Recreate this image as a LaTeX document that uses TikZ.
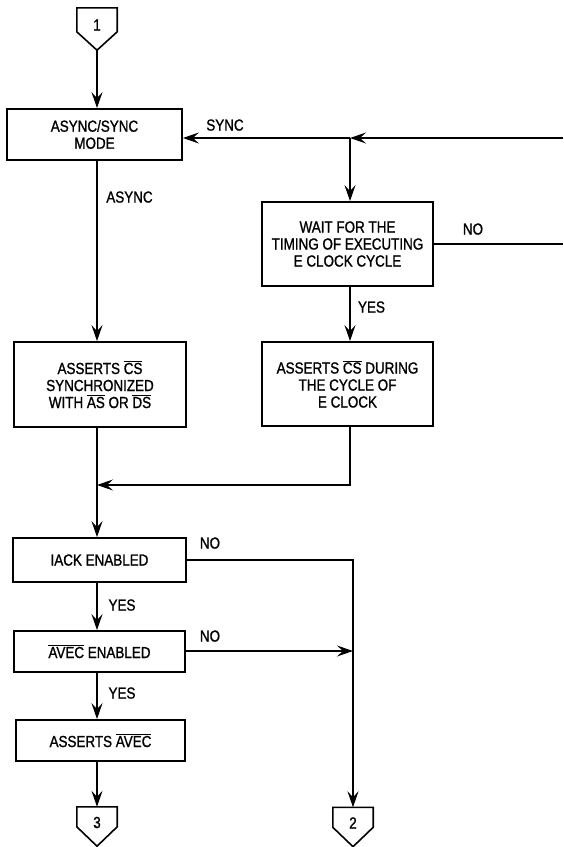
\documentclass[tikz,border=0pt]{standalone}
\usepackage{fontspec}
\setmainfont{Liberation Sans}[FakeStretch=0.84, FakeBold=1.2]
\usetikzlibrary{calc, positioning, arrows.meta}

\newcommand{\ovl}[1]{$\overline{\mbox{#1}}$}

\tikzset{
  box/.style={draw, line width=1.8pt, align=center, inner sep=0pt},
  offpage/.style={minimum width=40pt, minimum height=42pt, inner sep=0pt, text height=11pt, text depth=8pt},
  flow/.style={line width=1.3pt, -{Stealth[length=16pt, width=11pt, inset=6pt]}},
  plain/.style={line width=1.3pt},
  tag/.style={inner sep=0pt, text depth=0pt},
}

\begin{document}
\begin{tikzpicture}[x=1pt, y=-1pt, font=\fontsize{16}{17}\selectfont]
\useasboundingbox (0,0) rectangle (563,847);
% Entry connector
\node[offpage] (c1) at (97,29) {1};
\draw[line width=1.6pt] (c1.north west) -- (c1.north east) -- ++(0,24) -- (c1.south) -- ($(c1.north west)+(0,24)$) -- cycle;
% Boxes
\node[box, minimum width=175pt, minimum height=51pt] (mode) at (94.5,134.5) {ASYNC/SYNC\\MODE};
\node[box, minimum width=171pt, minimum height=84pt] (wait) at (347.5,244) {WAIT FOR THE\\TIMING OF EXECUTING\\E CLOCK CYCLE};
\node[box, minimum width=172pt, minimum height=85pt] (csasync) at (100,384.5) {ASSERTS \ovl{CS}\\SYNCHRONIZED\\WITH \ovl{AS} OR \ovl{DS}};
\node[box, minimum width=171pt, minimum height=84pt] (cssync) at (347.5,384) {ASSERTS \ovl{CS} DURING\\THE CYCLE OF\\E CLOCK};
\node[box, minimum width=173pt, minimum height=44pt] (iack) at (99.5,560) {IACK ENABLED};
\node[box, minimum width=171pt, minimum height=41pt] (avec) at (99.5,651.5) {\ovl{AVEC} ENABLED};
\node[box, minimum width=169pt, minimum height=41pt] (avecout) at (100.5,740.5) {ASSERTS \ovl{AVEC}};
% Exit connectors
\node[offpage, minimum height=39pt] (c3) at (97,826.5) {3};
\draw[line width=1.6pt] (c3.north west) -- (c3.north east) -- ++(0,20) -- (c3.south) -- ($(c3.north west)+(0,20)$) -- cycle;
\node[offpage, minimum height=39pt] (c2) at (353,827) {2};
\draw[line width=1.6pt] (c2.north west) -- (c2.north east) -- ++(0,20) -- (c2.south) -- ($(c2.north west)+(0,20)$) -- cycle;
% Junctions
\coordinate (syncin) at (563,138);
\coordinate (jsync) at (350,138);
\coordinate (noout) at (563,244);
\coordinate (jmerge) at (97,485);
% Left column
\draw[flow] (c1.south) -- (mode.north -| c1);
\draw[flow] (mode.south -| c1) -- (csasync.north -| c1);
\draw[flow] (csasync.south -| c1) -- (iack.north -| c1);
\draw[flow] (iack.south -| c1) -- (avec.north -| c1);
\draw[flow] (avec.south -| c1) -- (avecout.north -| c1);
\draw[flow] (avecout.south -| c1) -- (c3.north);
% Sync branch
\draw[flow] (syncin) -- (jsync);
\draw[flow] (jsync) -- (syncin -| mode.east);
\draw[flow] (jsync) -- (jsync |- wait.north);
\draw[plain] (wait.east) -- (noout);
\draw[flow] (jsync |- wait.south) -- (jsync |- cssync.north);
\draw[flow] (jsync |- cssync.south) |- (jmerge);
% No paths
\draw[flow] (iack.east) -| (c2.north);
\draw[flow] (avec.east |- 0,651) -- (c2 |- 0,651);
% Labels
\node[tag] (lsync) at (225,125) {SYNC};
\node[tag] (lasync) at (129.5,197) {ASYNC};
\node[tag] (lnowait) at (473,229) {NO};
\node[tag] (lyeswait) at (371.5,307) {YES};
\node[tag] (lnoiack) at (210,543) {NO};
\node[tag] (lyesiack) at (122,605) {YES};
\node[tag] (lnoavec) at (210,636) {NO};
\node[tag] (lyesavec) at (122,693) {YES};
\end{tikzpicture}
\end{document}
